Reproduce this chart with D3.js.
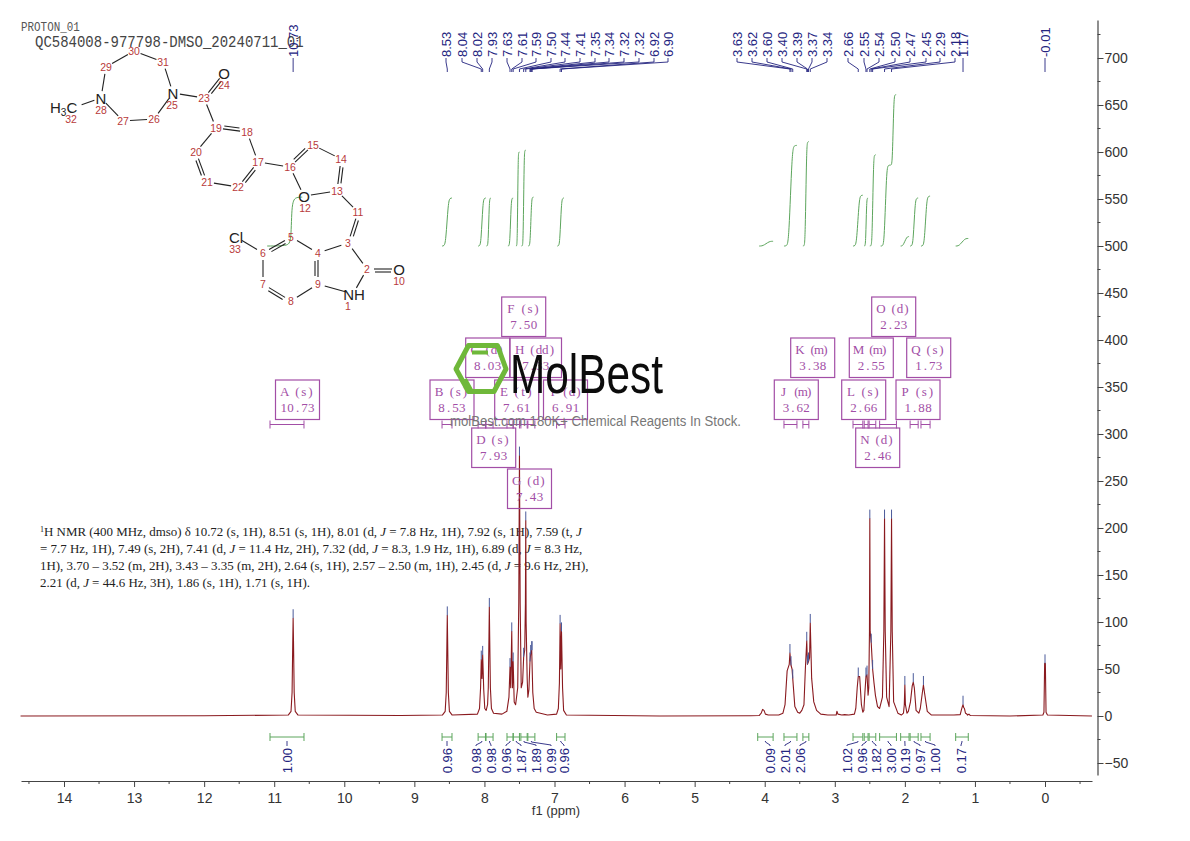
<!DOCTYPE html>
<html>
<head>
<meta charset="utf-8">
<title>PROTON_01</title>
<script src="https://cdn.jsdelivr.net/npm/d3@7"></script>
<style>
  html, body { margin: 0; padding: 0; background: #fff; }
  svg { display: block; }
</style>
</head>
<body>
<div id="chart"></div>
<script>
// 1H NMR spectrum

const xTicks = [14, 13, 12, 11, 10, 9, 8, 7, 6, 5, 4, 3, 2, 1, 0];
const yTicks = [700, 650, 600, 550, 500, 450, 400, 350, 300, 250, 200, 150, 100, 50, 0, -50];

// [ppm, intensity] vertices of the trace
const spectrum = [
  [14.62,0],[12,0.3],[10.80,1],[10.76,5],[10.745,25],[10.735,80],[10.73,104],[10.725,80],[10.715,25],[10.70,5],[10.66,1],
  [9.2,0.5],[8.60,1],[8.56,5],[8.545,25],[8.535,80],[8.53,107],[8.525,80],[8.515,25],[8.50,5],[8.46,1],
  [8.10,2],[8.07,8],[8.055,30],[8.045,60],[8.035,40],[8.025,65],[8.01,28],[7.995,8],[7.975,6],[7.955,12],[7.945,30],[7.935,85],[7.93,116],[7.925,85],[7.915,30],[7.90,8],[7.87,3],
  [7.75,2],[7.68,5],[7.65,20],[7.635,52],[7.625,30],[7.61,90],[7.60,30],[7.59,58],[7.575,15],[7.555,12],[7.525,30],[7.51,120],[7.50,277],[7.49,120],[7.475,30],[7.455,36],[7.44,63],[7.425,70],[7.415,120],[7.41,208],[7.405,100],[7.39,40],[7.38,20],[7.365,28],[7.35,58],[7.34,66],[7.325,70],[7.31,25],[7.29,8],[7.26,4],
  [7.1,1],[6.97,2],[6.945,8],[6.93,35],[6.92,98],[6.91,50],[6.90,90],[6.885,30],[6.87,6],[6.83,1],
  [5.5,0],[4.2,0.3],[4.08,0.5],[4.05,3],[4.03,7],[4.01,6],[3.99,2],[3.95,1],
  [3.80,1],[3.74,3],[3.71,12],[3.68,48],[3.65,55],[3.64,67],[3.625,54],[3.61,50],[3.60,40],[3.57,10],[3.53,4],[3.5,3],[3.47,6],[3.44,12],[3.42,50],[3.40,80],[3.39,55],[3.375,58],[3.36,62],[3.35,99],[3.33,40],[3.30,15],[3.26,6],[3.2,2],[3.1,1],
  [2.98,1],[2.97,5],[2.955,2],[2.90,1],[2.86,1.5],[2.8,1],[2.72,2],[2.70,8],[2.68,30],[2.665,42],[2.645,42],[2.62,12],[2.60,4],[2.585,6],[2.57,25],[2.555,42],[2.54,44],[2.525,22],[2.515,30],[2.505,90],[2.50,210],[2.495,90],[2.48,78],[2.46,50],[2.44,35],[2.42,22],[2.39,10],[2.36,8],[2.32,20],[2.30,90],[2.29,210],[2.28,90],[2.26,20],[2.225,10],[2.20,90],[2.19,210],[2.18,90],[2.16,15],[2.1,3],[2.05,1],
  [2.02,3],[2.008,12],[2.0,33],[1.992,12],[1.97,3],[1.95,5],[1.92,15],[1.895,32],[1.88,36],[1.865,30],[1.84,6],[1.80,3],[1.78,8],[1.75,25],[1.735,33],[1.72,25],[1.68,5],[1.62,1],
  [1.3,1],[1.21,1.5],[1.195,6],[1.18,10],[1.17,12],[1.16,9],[1.15,8],[1.135,3],[1.12,2.5],[1.105,1],[1.085,2],[1.065,0.5],
  [0.5,0],[0.03,1],[0.015,4],[0.005,56],[-0.005,56],[-0.015,4],[-0.035,1],[-0.67,0]
];

// picked peaks: top row labels, the ppm they point to, and the height of the trace there
const peakLabels = ["8.53","8.04","8.02","7.93","7.63","7.61","7.59","7.50","7.44","7.41","7.35","7.34","7.32","7.32","6.92","6.90",
  "3.63","3.62","3.60","3.40","3.39","3.37","3.34","2.66","2.55","2.54","2.50","2.47","2.45","2.29","2.18"];
const peakPpm = [8.53,8.045,8.025,7.93,7.635,7.61,7.59,7.50,7.44,7.41,7.35,7.34,7.325,7.32,6.92,6.90,
  3.64,3.625,3.60,3.40,3.39,3.375,3.35,2.665,2.555,2.54,2.50,2.48,2.46,2.29,2.19];
const peakHeight = [107,60,65,116,52,90,58,277,63,208,58,66,70,70,98,90,
  67,54,40,80,55,58,99,42,42,44,210,78,50,210,210];
const peakLabelX = [446,462,477,492,507,522,536,551,565,580,595,609,624,639,654,668,
  737,752,767,782,797,812,827,848,864,879,895,910,926,940,955];

// the ones with a straight line
const soloLabels = ["10.73","1.17","-0.01"];
const soloPpm = [10.73,1.17,0];
const soloHeight = [104,12,56];

// ticks on the trace with no label above them
const extraTickPpm = [2.0,1.88,1.735];
const extraTickHeight = [33,36,33];

// integrals: [from, to, value where it starts, value where it ends, optional ppm where it climbs]
const integralCurves = [
  [11.1,10.60,500,552,10.74],[8.605,8.463,500,551],[8.09,7.98,500,551],[7.97,7.907,500,551],[7.665,7.59,500,551],
  [7.55,7.50,500,600],[7.47,7.41,500,602],[7.375,7.30,500,552],[6.96,6.865,500,551],[4.08,3.88,500,505],
  [3.725,3.54,500,607],[3.455,3.37,500,611],[2.74,2.60,500,554],[2.58,2.525,500,551],[2.50,2.415,500,597],
  [2.345,2.21,500,586],[2.21,2.125,586,661],[2.06,1.94,500,510],[1.925,1.81,500,551],[1.77,1.64,500,553],[1.275,1.095,500,508]
];
const rangeFrom = [11.06,8.605,8.09,7.977,7.678,7.59,7.48,7.38,6.97,4.1,3.725,3.455,2.74,2.58,2.51,2.36,2.06,1.925,1.77,1.275];
const rangeTo = [10.575,8.463,7.985,7.877,7.59,7.50,7.39,7.28,6.85,3.88,3.54,3.37,2.60,2.525,2.415,2.12,1.94,1.81,1.64,1.095];
const integralValues = ["1.00","0.96","0.98","0.98","0.96","1.87","1.89","0.99","0.96","0.09","2.01","2.06","1.02","0.96","1.82","3.00","0.19","0.97","1.00","0.17"];
const integralLabelX = [287,447,476,491,506,521,536,551,564,770,785,800,847,862,876,891,905,920,935,961];
// the small solvent/impurity ranges have no multiplet bracket
const noMultiplet = ["0.09","0.19","0.17"];

// multiplet boxes: [letter line, shift, left, top, width]
const boxes = [
  ["A (s)","10.73",275.5,380,44],["B (s)","8.53",430,380,44],["C (d)","8.03",465.7,338,44],["D (s)","7.93",471.7,428,44],
  ["E (t)","7.61",494.7,380,44],["F (s)","7.50",501.7,297,44],["G (d)","7.43",507.5,469,44],["H (dd)","7.33",510,338,51.5],
  ["I (d)","6.91",543.5,380,44],["J (m)","3.62",774.3,380,44],["K (m)","3.38",790.7,338,44],["L (s)","2.66",841.7,380,44],
  ["M (m)","2.55",849.3,338,44],["N (d)","2.46",855.7,428,44],["O (d)","2.23",871.7,297,44],["P (s)","1.88",896,380,44],["Q (s)","1.73",906.7,338,44]
];

const assignment = [
  [{t:"1",sup:1},{t:"H NMR (400 MHz, dmso) δ 10.72 (s, 1H), 8.51 (s, 1H), 8.01 (d, "},{t:"J",i:1},{t:" = 7.8 Hz, 1H), 7.92 (s, 1H), 7.59 (t, "},{t:"J",i:1}],
  [{t:"= 7.7 Hz, 1H), 7.49 (s, 2H), 7.41 (d, "},{t:"J",i:1},{t:" = 11.4 Hz, 2H), 7.32 (dd, "},{t:"J",i:1},{t:" = 8.3, 1.9 Hz, 1H), 6.89 (d, "},{t:"J",i:1},{t:" = 8.3 Hz,"}],
  [{t:"1H), 3.70 – 3.52 (m, 2H), 3.43 – 3.35 (m, 2H), 2.64 (s, 1H), 2.57 – 2.50 (m, 1H), 2.45 (d, "},{t:"J",i:1},{t:" = 9.6 Hz, 2H),"}],
  [{t:"2.21 (d, "},{t:"J",i:1},{t:" = 44.6 Hz, 3H), 1.86 (s, 1H), 1.71 (s, 1H)."}]
];

// molecule: atom number -> position on the page
const atoms = {1:[353,294],2:[367,269],3:[348,243],4:[318,253],5:[291,237],6:[263,253],7:[263,284],8:[291,301],9:[318,284],
  10:[399,269],11:[358,212],12:[304,196],13:[337,191],14:[341,159],15:[313,145],16:[290,167],17:[258,162],18:[247,132],
  19:[216,128],20:[196,152],21:[207,182],22:[238,187],23:[204,98],24:[224,73],25:[173,93],26:[154,119],27:[123,121],
  28:[101,98],29:[106,67],30:[134,51],31:[163,62],32:[75,107],33:[236,237]};
const singleBonds = [[1,2],[2,3],[3,4],[4,5],[6,7],[8,9],[9,1],[11,13],[13,12],[14,15],[16,12],[16,17],[17,18],[19,20],[21,22],
  [19,23],[23,25],[25,26],[26,27],[27,28],[28,29],[29,30],[30,31],[31,25],[28,32],[6,33]];
// [a, b, side of the second line]
const doubleBonds = [[5,6,-1],[7,8,1],[9,4,-1],[2,10,1],[3,11,1],[13,14,1],[15,16,1],[18,19,1],[20,21,1],[22,17,1],[23,24,1]];
const heavyAtoms = [[12,"O"],[10,"O"],[24,"O"],[25,"N"],[28,"N"],[33,"Cl"]];
const numberSpots = [[1,348,306],[2,367,269],[3,348,243],[4,318,253],[5,291,237],[6,263,253],[7,263,284],[8,291,301],[9,318,284],
  [10,399,281],[11,358,212],[12,305,208],[13,337,191],[14,341,159],[15,313,145],[16,290,167],[17,258,162],[18,247,132],
  [19,216,128],[20,196,152],[21,207,182],[22,238,187],[23,204,98],[24,224,85],[25,172,105],[26,154,119],[27,123,121],
  [28,101,110],[29,106,67],[30,134,51],[31,163,62],[32,71,119],[33,235,249]];

const width = 1190, height = 841;
const sans = "'Liberation Sans', Arial, sans-serif";
const serif = "'Liberation Serif', 'Times New Roman', serif";
const navy = "#24247f", purple = "#a24ea6", green = "#5ca55c";

const x = d3.scaleLinear().domain([14, 0]).range([64, 1045]);
const y = d3.scaleLinear().domain([0, 700]).range([716, 58]);

const svg = d3.select("#chart").append("svg").attr("width", width).attr("height", height);

// each glyph centred in its own cell, the spectrometer software prints in a fixed pitch font
function fixedText(g, str, left, base, size, adv, fill) {
  g.append("text")
    .attr("x", Array.from(str).map((c, i) => (left + (i + 0.5) * adv).toFixed(1)).join(" "))
    .attr("y", base)
    .attr("text-anchor", "middle")
    .attr("xml:space", "preserve")
    .style("white-space", "pre")
    .attr("font-family", serif)
    .attr("font-size", size)
    .attr("fill", fill)
    .text(str);
}

// axes
function styleAxis(g) {
  g.selectAll("path.domain").attr("stroke", "#444").attr("stroke-width", 1.2);
  g.selectAll("line").attr("stroke", "#444").attr("stroke-width", 1);
  g.selectAll("text").attr("font-family", sans).attr("font-size", 14).attr("fill", "#333");
}
const xAxisScale = x.copy().domain([x.invert(21), x.invert(1092)]).range([21, 1092]);
const xMinor = d3.range(14.5, -0.6, -1);
const gx = svg.append("g").attr("transform", "translate(0,781)");
gx.call(d3.axisBottom(xAxisScale).tickValues(xTicks).tickFormat(d3.format("d")).tickSize(6).tickSizeOuter(0).tickPadding(6));
gx.call(styleAxis);
gx.selectAll("g.minor").data(xMinor).enter().append("line").attr("class", "minor")
  .attr("x1", d => x(d)).attr("x2", d => x(d)).attr("y1", 0).attr("y2", 3)
  .attr("stroke", "#444");
svg.append("text").attr("x", 556).attr("y", 815).attr("text-anchor", "middle")
  .attr("font-family", sans).attr("font-size", 13).attr("fill", "#333").text("f1 (ppm)");

const yAxisScale = y.copy().domain([y.invert(20), y.invert(775)]).range([20, 775]);
const yMinor = d3.range(725, -75, -50);
const gy = svg.append("g").attr("transform", "translate(1097.5,0)");
gy.call(d3.axisRight(yAxisScale).tickValues(yTicks).tickFormat(d3.format("d")).tickSize(6).tickSizeOuter(0).tickPadding(1));
gy.call(styleAxis);
gy.selectAll("g.minor").data(yMinor).enter().append("line").attr("class", "minor")
  .attr("y1", d => y(d)).attr("y2", d => y(d)).attr("x1", 0).attr("x2", 3)
  .attr("stroke", "#444");

// header
svg.append("text").attr("transform", "translate(21,31) scale(1,1.15)")
  .attr("font-family", "'Liberation Mono', monospace").attr("font-size", 10.9).attr("fill", "#555").text("PROTON_01");
svg.append("text").attr("transform", "translate(35,47) scale(1,1.2)")
  .attr("font-family", "'Liberation Mono', monospace").attr("font-size", 14).attr("fill", "#444")
  .text("QC584008-977798-DMSO_20240711_01");

// assignment text
assignment.forEach((line, i) => {
  const row = svg.append("text").attr("x", 40).attr("y", 536 + i * 17)
    .attr("font-family", serif).attr("font-size", 12.95).attr("fill", "#222");
  line.forEach(part => {
    const t = row.append("tspan").text(part.t);
    if (part.i) t.attr("font-style", "italic");
    if (part.sup) t.attr("font-size", 8).attr("dy", -4);
    else if (line[0].sup && part === line[1]) t.attr("dy", 4);
  });
});

// integral curves
const integralLine = d3.line().x(d => d[0]).y(d => d[1]).curve(d3.curveBasis);
svg.append("g").selectAll("path").data(integralCurves).enter().append("path")
  .attr("fill", "none").attr("stroke", green).attr("stroke-width", 1)
  .attr("d", d => {
    const a = x(d[0]), b = x(d[1]), w = b - a, y0 = y(d[2]), y1 = y(d[3]);
    const rise = Math.abs(y1 - y0);
    const hook = Math.min(4, rise * 0.25);
    if (d[4] !== undefined) {
      const c = x(d[4]);
      return integralLine([[a, y0], [c - 5, y0], [c - 1, y0 - hook], [c - 1, y1 + hook], [c + 4, y1], [b, y1]]);
    }
    return integralLine([[a, y0], [a + w * 0.2, y0], [a + w * 0.38, y0 - hook], [a + w * 0.62, y1 + hook], [a + w * 0.8, y1], [b, y1]]);
  });

// spectrum
const traceLine = d3.line().x(d => x(d[0])).y(d => y(d[1]));
svg.append("path").datum(spectrum)
  .attr("fill", "none").attr("stroke", "#8a1a1f").attr("stroke-width", 1.1).attr("stroke-linejoin", "round")
  .attr("d", traceLine);

// peak ticks sitting on the trace
const tickPpm = peakPpm.concat(soloPpm, extraTickPpm);
const tickHeight = peakHeight.concat(soloHeight, extraTickHeight);
svg.append("g").selectAll("line").data(tickPpm).enter().append("line")
  .attr("x1", d => x(d)).attr("x2", d => x(d))
  .attr("y1", (d, i) => y(tickHeight[i]) - 9).attr("y2", (d, i) => y(tickHeight[i]))
  .attr("stroke", "#4a5a9a").attr("stroke-width", 1);

// peak labels along the top with the fan of leaders
const topG = svg.append("g");
peakLabels.forEach((lab, i) => {
  const lx = peakLabelX[i], px = x(peakPpm[i]);
  topG.append("path").attr("fill", "none").attr("stroke", navy).attr("stroke-width", 0.9)
    .attr("d", d3.line()([[lx, 58], [lx, 62], [px, 69], [px, 72]]));
  topG.append("text").attr("transform", `translate(${lx},57) rotate(-90)`)
    .attr("dominant-baseline", "central").attr("font-family", sans).attr("font-size", 13)
    .attr("fill", navy).text(lab);
});
soloLabels.forEach((lab, i) => {
  const px = x(soloPpm[i]);
  topG.append("line").attr("x1", px).attr("x2", px).attr("y1", 58).attr("y2", 72)
    .attr("stroke", navy).attr("stroke-width", 0.9);
  topG.append("text").attr("transform", `translate(${px},57) rotate(-90)`)
    .attr("dominant-baseline", "central").attr("font-family", sans).attr("font-size", 13)
    .attr("fill", navy).text(lab);
});

// integral brackets under the trace, the same ranges in purple under the boxes
function brackets(g, yPos, color, skip) {
  rangeFrom.forEach((from, i) => {
    if (skip.includes(integralValues[i])) return;
    const a = x(from), b = x(rangeTo[i]);
    g.append("path").attr("fill", "none").attr("stroke", color).attr("stroke-width", 1)
      .attr("d", `M${a},${yPos - 4}V${yPos + 4}M${a},${yPos}H${b}M${b},${yPos - 4}V${yPos + 4}`);
  });
}
brackets(svg.append("g"), 737, green, []);
brackets(svg.append("g"), 424.5, purple, noMultiplet);

// integral values
const botG = svg.append("g");
integralValues.forEach((val, i) => {
  const cx = (x(rangeFrom[i]) + x(rangeTo[i])) / 2, lx = integralLabelX[i];
  botG.append("path").attr("fill", "none").attr("stroke", navy).attr("stroke-width", 0.9)
    .attr("d", d3.line()([[cx, 741], [cx, 742], [lx, 745], [lx, 746]]));
  botG.append("text").attr("transform", `translate(${lx},748) rotate(-90)`)
    .attr("text-anchor", "end").attr("dominant-baseline", "central")
    .attr("font-family", sans).attr("font-size", 13).attr("fill", navy).text(val);
});

// multiplet boxes
const boxG = svg.append("g");
boxes.forEach(b => {
  boxG.append("rect").attr("x", b[2]).attr("y", b[3]).attr("width", b[4]).attr("height", 39.5)
    .attr("fill", "none").attr("stroke", purple).attr("stroke-width", 1.2);
  const head = Array.from(b[0]).length * 6.4, num = Array.from(b[1]).length * 6.9;
  fixedText(boxG, b[0], b[2] + (b[4] - head) / 2, b[3] + 16, 13, 6.4, purple);
  fixedText(boxG, b[1], b[2] + (b[4] - num) / 2, b[3] + 32, 13, 6.9, purple);
});

// molecule
const mol = svg.append("g");
function bondLine(a, b, off, trimA, trimB, g) {
  const dx = b[0] - a[0], dy = b[1] - a[1], len = Math.hypot(dx, dy);
  const ux = dx / len, uy = dy / len, ox = -uy * off, oy = ux * off;
  g.append("line")
    .attr("x1", a[0] + ux * trimA + ox).attr("y1", a[1] + uy * trimA + oy)
    .attr("x2", b[0] - ux * trimB + ox).attr("y2", b[1] - uy * trimB + oy)
    .attr("stroke", "#222").attr("stroke-width", 1.1);
}
singleBonds.forEach(d => bondLine(atoms[d[0]], atoms[d[1]], 0, 7, 7, mol));
doubleBonds.forEach(d => {
  bondLine(atoms[d[0]], atoms[d[1]], 0, 7, 7, mol);
  bondLine(atoms[d[0]], atoms[d[1]], 3 * d[2], 8, 8, mol);
});
heavyAtoms.forEach(d => {
  const p = atoms[d[0]];
  mol.append("text").attr("x", p[0]).attr("y", p[1]).attr("text-anchor", "middle").attr("dominant-baseline", "central")
    .attr("font-family", sans).attr("font-size", 15).attr("fill", "#222").text(d[1]);
});
mol.append("text").attr("x", 354).attr("y", 294).attr("text-anchor", "middle").attr("dominant-baseline", "central")
  .attr("font-family", sans).attr("font-size", 15).attr("fill", "#222").text("NH");
const methyl = mol.append("text").attr("x", 50).attr("y", 113).attr("font-family", sans).attr("font-size", 15).attr("fill", "#222");
methyl.append("tspan").text("H");
methyl.append("tspan").attr("font-size", 10).attr("dy", 3).text("3");
methyl.append("tspan").attr("dy", -3).text("C");
numberSpots.forEach(d => {
  mol.append("text").attr("x", d[1]).attr("y", d[2]).attr("text-anchor", "middle").attr("dominant-baseline", "central")
    .attr("font-family", sans).attr("font-size", 10.5).attr("fill", "#b83a3a").text(d[0]);
});

// watermark
const mark = svg.append("g");
const hexPath = d3.line();
mark.append("path").attr("fill", "none").attr("stroke", "#6fb83a").attr("stroke-width", 5).attr("stroke-linejoin", "round")
  .attr("d", hexPath([[468.5, 345.5], [497.5, 345.5], [506, 369], [494, 391.5], [468.5, 391.5], [456, 369]]) + "Z");
mark.append("path").attr("fill", "none").attr("stroke", "#6fb83a").attr("stroke-width", 4)
  .attr("d", "M472,352.5H488M465,379L471,390");
mark.append("text").attr("x", 510).attr("y", 393).attr("textLength", 153).attr("lengthAdjust", "spacingAndGlyphs")
  .attr("font-family", sans).attr("font-size", 55).attr("fill", "#0c0c0c").text("MolBest");
mark.append("text").attr("x", 450).attr("y", 426).attr("textLength", 291).attr("lengthAdjust", "spacingAndGlyphs")
  .attr("font-family", sans).attr("font-size", 14).attr("fill", "#777").text("molBest.com 180K+ Chemical Reagents In Stock.");
</script>
</body>
</html>
